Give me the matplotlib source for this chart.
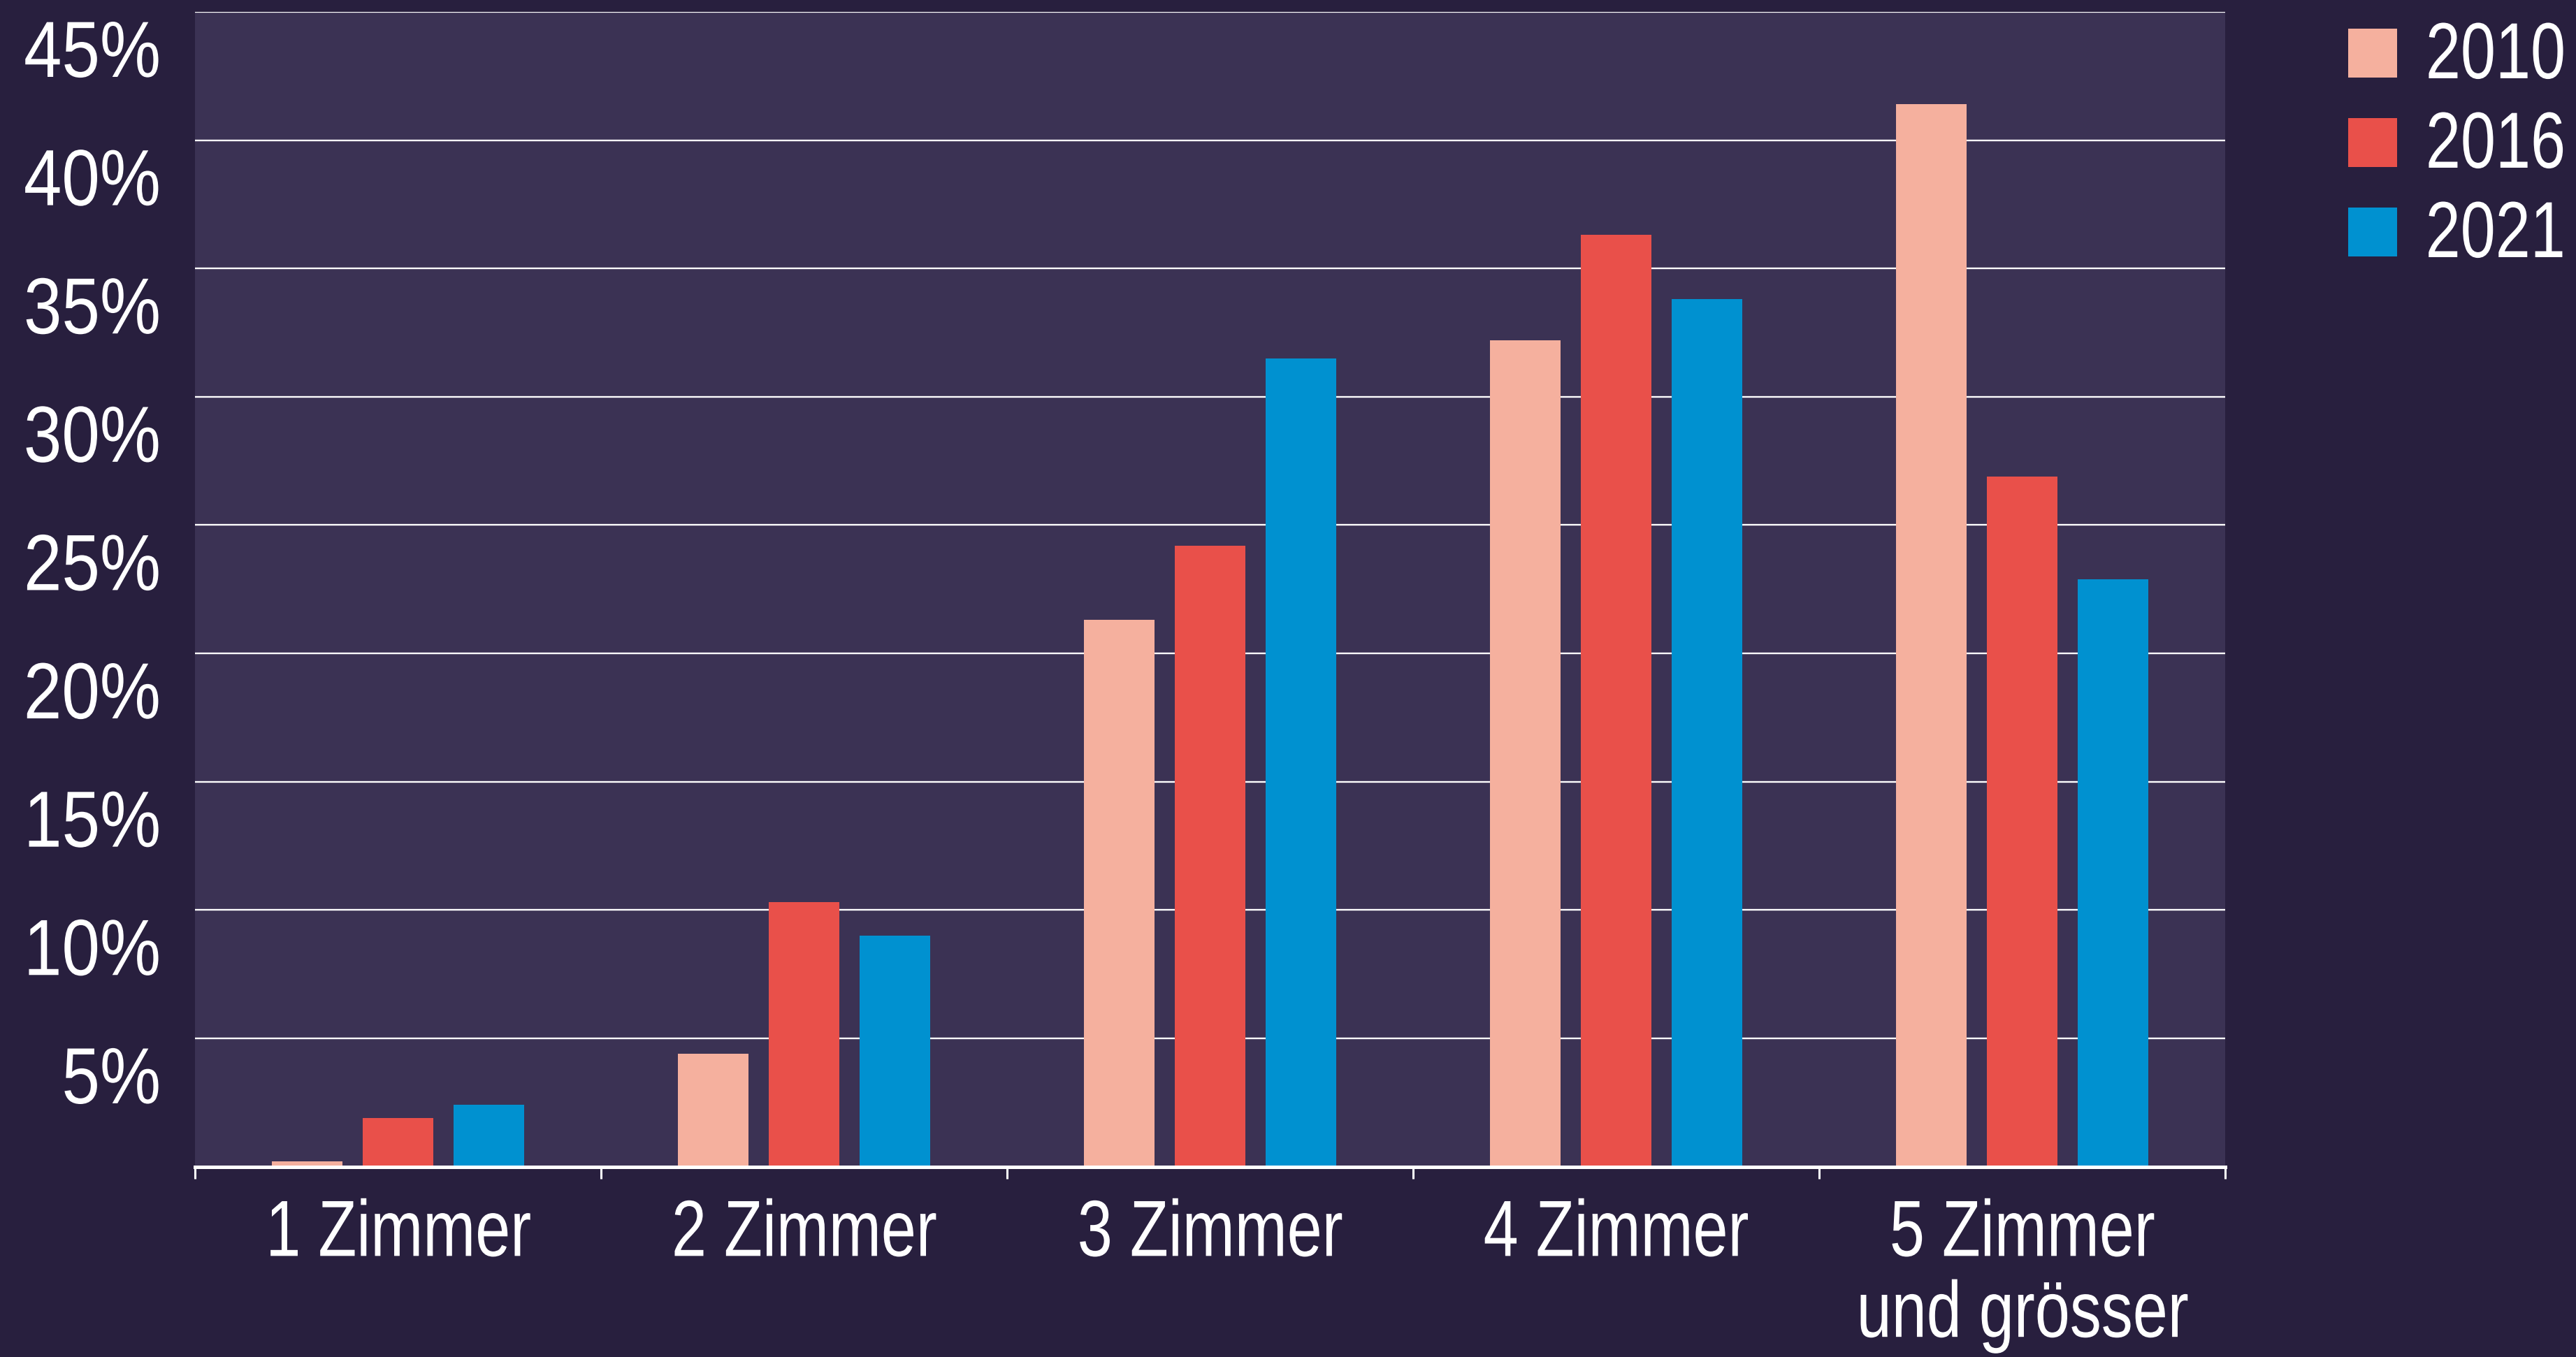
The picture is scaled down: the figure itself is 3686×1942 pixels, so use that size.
import matplotlib.pyplot as plt
import numpy as np
from matplotlib.patches import Rectangle
from matplotlib.patheffects import AbstractPathEffect
from matplotlib.transforms import Affine2D, ScaledTranslation

categories = ["1 Zimmer", "2 Zimmer", "3 Zimmer", "4 Zimmer", "5 Zimmer\nund grösser"]
years = ["2010", "2016", "2021"]
share_2010 = [0.2, 4.4, 21.3, 32.2, 41.4]
share_2016 = [1.9, 10.3, 24.2, 36.3, 26.9]
share_2021 = [2.4, 9.0, 31.5, 33.8, 22.9]
yticks = [5, 10, 15, 20, 25, 30, 35, 40, 45]

colors = ["#f5b09e", "#e9504a", "#0091d0"]
bg_outer = "#281f3e"
bg_plot = "#3b3254"


class Narrow(AbstractPathEffect):
    """Squeeze glyphs horizontally to get a condensed look."""

    def __init__(self, sx=0.8, anchor="center"):
        super().__init__()
        self.sx = sx
        self.anchor = anchor

    def draw_path(self, renderer, gc, tpath, affine, rgbFace=None):
        ext = affine.transform_path(tpath).get_extents()
        x0 = {"left": ext.x0, "center": 0.5 * (ext.x0 + ext.x1), "right": ext.x1}[self.anchor]
        squeeze = Affine2D().translate(-x0, 0).scale(self.sx, 1).translate(x0, 0)
        renderer.draw_path(gc, tpath, affine + squeeze, rgbFace)


plt.rcParams['font.family'] = ['Liberation Sans', 'DejaVu Sans']
FS = 82

W, H = 3687, 1942
fig = plt.figure(figsize=(W / 100, H / 100), dpi=100, facecolor=bg_outer)
ax = fig.add_axes([279 / W, 1 - 1669.5 / H, (3184 - 279) / W, (1669.5 - 17) / H])
ax.set_facecolor(bg_plot)

x = np.arange(len(categories))
width = 0.174
step = 0.223
series = [share_2010, share_2016, share_2021]
for i, (vals, c) in enumerate(zip(series, colors)):
    ax.bar(x + (i - 1) * step, vals, width, color=c, zorder=3)

ax.set_xlim(-0.5, len(categories) - 0.5)
ax.set_ylim(0, 45)

# y axis: labels sit just below their grid line
ax.set_yticks(yticks)
ax.set_yticklabels([f"{v}%" for v in yticks])
ax.yaxis.grid(True, color="white", linewidth=1.7, zorder=1)
ax.tick_params(axis="y", length=0, pad=35, labelsize=FS, labelcolor="white")
shift = ScaledTranslation(0, -93 / 100, fig.dpi_scale_trans)
for lab in ax.get_yticklabels():
    lab.set_verticalalignment("baseline")
    lab.set_transform(lab.get_transform() + shift)
    lab.set_path_effects([Narrow(0.86, "right")])

# x axis: category names centred, tick marks on the group boundaries
ax.set_xticks(x)
ax.set_xticklabels(categories, linespacing=1.12)
ax.tick_params(axis="x", which="major", length=0, pad=33, labelsize=FS, labelcolor="white")
for lab in ax.get_xticklabels():
    lab.set_path_effects([Narrow(0.79, "center")])
ax.set_xticks(np.arange(len(categories) + 1) - 0.5, minor=True)
ax.tick_params(axis="x", which="minor", length=12, width=2.2, color="white", direction="out")

for side in ["top", "right", "left"]:
    ax.spines[side].set_visible(False)
ax.spines["bottom"].set_color("white")
ax.spines["bottom"].set_linewidth(3.6)
ax.spines["bottom"].set_zorder(4)

# legend: coloured squares with the year beside them (right-aligned text)
for i, (yr, c) in enumerate(zip(years, colors)):
    bottom = 111 + 128 * i
    fig.add_artist(Rectangle((3360 / W, 1 - bottom / H), 70 / W, 70 / H,
                             transform=fig.transFigure, color=c, lw=0))
    t = fig.text(3672 / W, 1 - (bottom + 1) / H, yr, color="white", fontsize=FS,
                 ha="right", va="baseline")
    t.set_path_effects([Narrow(0.79, "right")])

fig.savefig("out.png", dpi=100, facecolor=bg_outer)
